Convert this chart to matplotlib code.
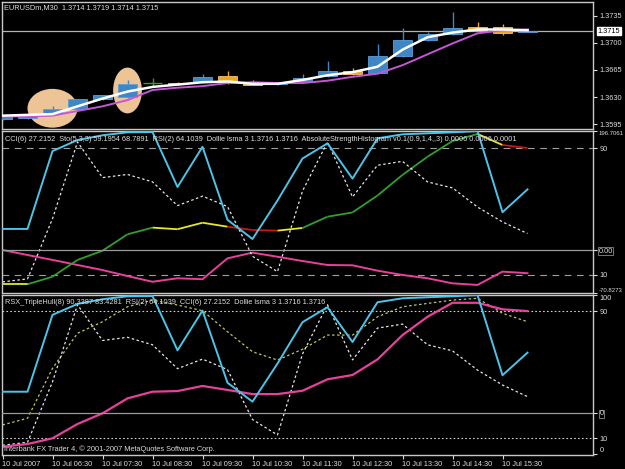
import numpy as np
import matplotlib
matplotlib.use("Agg")
import matplotlib.pyplot as plt
from matplotlib.patches import Rectangle, Ellipse
from matplotlib import font_manager

# EURUSDm M30, 10 Jul 2007, 05:30 .. 16:00
bars = np.arange(22)
xtick_bars = [0, 2, 4, 6, 8, 10, 12, 14, 16, 18, 20]
xtick_labels = ["10 Jul 2007", "10 Jul 06:30", "10 Jul 07:30", "10 Jul 08:30",
                "10 Jul 09:30", "10 Jul 10:30", "10 Jul 11:30", "10 Jul 12:30",
                "10 Jul 13:30", "10 Jul 14:30", "10 Jul 15:30"]

opens = [1.3602, 1.3603, 1.3609, 1.3615, 1.3627, 1.3630, 1.3648, 1.3648, 1.3649, 1.3657, 1.3648,
         1.3647, 1.3651, 1.3657, 1.3664, 1.3661, 1.3683, 1.3703, 1.3711, 1.3720, 1.3720, 1.3714]
highs = [1.3607, 1.3606, 1.3618, 1.3628, 1.3633, 1.3652, 1.3655, 1.3649, 1.3660, 1.3663, 1.3652,
         1.3649, 1.3660, 1.3677, 1.3667, 1.3698, 1.3719, 1.3714, 1.3739, 1.3726, 1.3724, 1.3719]
lows = [1.3601, 1.3602, 1.3607, 1.3614, 1.3626, 1.3629, 1.3644, 1.3646, 1.3648, 1.3647, 1.3645,
        1.3645, 1.3650, 1.3656, 1.3659, 1.3660, 1.3682, 1.3702, 1.3710, 1.3715, 1.3710, 1.3714]
closes = [1.3606, 1.3605, 1.3615, 1.3627, 1.3632, 1.3647, 1.3648, 1.3647, 1.3656, 1.3649, 1.3645,
          1.3648, 1.3655, 1.3663, 1.3660, 1.3683, 1.3703, 1.3711, 1.3719, 1.3716, 1.3713, 1.3715]

lsma = [1.3606, 1.3607, 1.3608, 1.3618, 1.3628, 1.3637, 1.3643, 1.3646, 1.3649, 1.3650, 1.3647,
        1.3647, 1.3652, 1.3658, 1.3662, 1.3669, 1.3691, 1.3707, 1.3713, 1.3717, 1.3717, 1.3716]
slow_ma = [1.3605, 1.3605, 1.3606, 1.3612, 1.3618, 1.3626, 1.3639, 1.3642, 1.3644, 1.3648, 1.3649,
           1.3648, 1.3648, 1.3651, 1.3656, 1.3660, 1.3671, 1.3685, 1.3699, 1.3712, 1.3716, 1.3717]

# highlighted areas on the price chart: (bar, price, width in bars, height in price)
highlights = [(2.0, 1.36155, 2.0, 0.0050), (5.0, 1.36384, 1.15, 0.0059)]

cci6 = [35.0, 35.0, 163.5, 181.8, 189.6, 194.5, 195.0, 104.2, 170.6, 50.0, 18.4,
        82.0, 151.3, 176.3, 118.1, 184.6, 191.2, 192.9, 194.5, 196.7, 62.6, 100.3]
rsi2 = [5.6, 7.5, 45.5, 94.0, 71.5, 73.5, 68.8, 53.8, 59.8, 53.2, 21.8,
        12.1, 63.0, 94.0, 59.3, 79.3, 81.8, 68.8, 65.0, 52.9, 43.5, 36.2]
sto_line = [4.1, 4.1, 8.9, 19.5, 25.3, 35.7, 39.9, 38.9, 43.0, 40.5, 38.4,
            38.0, 39.7, 46.8, 49.5, 60.2, 73.2, 84.7, 94.6, 99.1, 92.1, 90.2]
# trend state of each segment of sto_line: u = up, f = flat, d = down
sto_state = ["f", "u", "u", "u", "u", "u", "f", "f", "f", "d", "d",
             "f", "u", "u", "u", "u", "u", "u", "u", "f", "d"]
abs_strength = [25.8, 22.6, 19.5, 16.3, 13.1, 9.3, 5.7, 7.9, 7.3, 20.5, 24.1,
                21.5, 18.8, 16.3, 16.1, 12.7, 10.0, 7.9, 4.7, 3.7, 12.1, 11.1]

rsx_main = [4.7, 6.4, 10.0, 19.0, 25.7, 35.1, 39.3, 39.7, 42.9, 40.4, 37.8,
            37.8, 39.9, 47.1, 49.8, 59.6, 74.9, 86.4, 95.2, 95.2, 91.1, 90.0]
rsx_signal = [18.4, 22.6, 54.0, 76.0, 83.3, 92.7, 96.9, 93.8, 90.2, 77.0, 64.4,
              59.2, 66.0, 74.9, 74.9, 86.4, 92.7, 94.8, 96.9, 98.0, 88.6, 83.3]

installed = {f.name for f in font_manager.fontManager.ttflist}
if "Liberation Sans Narrow" in installed:
    plt.rcParams["font.family"] = ["Liberation Sans Narrow", "DejaVu Sans"]
    FS = 6.3
else:
    plt.rcParams["font.family"] = ["Liberation Sans", "DejaVu Sans"]
    FS = 5.3

W, H = 625, 469
TXT = "#dcdcdc"
GRID = "#a0a0a0"

fig = plt.figure(figsize=(W / 100, H / 100), dpi=100, facecolor="black")


def box(top, bottom, left=2, right=593):
    return [left / W, 1 - bottom / H, (right - left) / W, (bottom - top) / H]


def right_ticks(ax):
    ax.yaxis.tick_right()
    ax.tick_params(axis="y", left=False, labelleft=False, right=True, labelright=True,
                   colors=TXT, labelsize=FS, length=3, width=0.8, pad=1.5)


def style(ax):
    ax.set_facecolor("black")
    for s in ax.spines.values():
        s.set_color("#c8c8c8")
        s.set_linewidth(1)
    ax.set_xlim(-0.02, 23.62)
    right_ticks(ax)
    ax.tick_params(axis="x", bottom=False, labelbottom=False)


def cci_axis(ax):
    tw = ax.twinx()
    tw.set_ylim(cci_lo, cci_hi)
    tw.set_xlim(-0.02, 23.62)
    for s in tw.spines.values():
        s.set_visible(False)
    right_ticks(tw)
    right_ticks(ax)
    return tw


cci_lo, cci_hi = -70.8273, 196.7061

ax_price = fig.add_axes(box(2, 129))
ax_mid = fig.add_axes(box(131, 293))
ax_low = fig.add_axes(box(295, 455))
for a in (ax_price, ax_mid, ax_low):
    style(a)

# ---- price panel
ax_price.set_ylim(1.35888, 1.37524)
for bx, by, bw, bh in highlights:
    ax_price.add_patch(Ellipse((bx, by), bw, bh, facecolor="#ecc496", edgecolor="none", zorder=1))

body_w = 0.76
for k in bars:
    o, h, l, c = opens[k], highs[k], lows[k], closes[k]
    if c > o:
        col, edge = "#3f86c6", "#5f9fd8"
    elif c < o:
        col, edge = "#f2a41e", "#f8c070"
    else:
        col, edge = "#2e9e2e", "#2e9e2e"
    ax_price.vlines(k, l, h, color=col, lw=1, zorder=2)
    if c == o:
        ax_price.hlines(o, k - body_w / 2, k + body_w / 2, color=col, lw=1, zorder=3)
    else:
        ax_price.add_patch(Rectangle((k - body_w / 2, min(o, c)), body_w, abs(c - o),
                                     facecolor=col, edgecolor=edge, lw=0.6, zorder=3))

ax_price.axhline(closes[-1], color="#b4b4b4", lw=0.9, zorder=1.5)
ax_price.plot(bars, slow_ma, color="#c755d8", lw=1.4, zorder=4)
ax_price.plot(bars, lsma, color="white", lw=1.8, zorder=5)

price_ticks = [1.3735, 1.3700, 1.3665, 1.3630, 1.3595]
ax_price.set_yticks(price_ticks)
ax_price.set_yticklabels([f"{p:.4f}" for p in price_ticks])
ax_price.text(1.008, closes[-1], f"{closes[-1]:.4f}", transform=ax_price.get_yaxis_transform(),
              fontsize=FS, color="black", va="center", ha="left",
              bbox=dict(facecolor="white", edgecolor="white", pad=0.6), clip_on=False)
fig.text(4 / W, 1 - 7.5 / H, "EURUSDm,M30  1.3714 1.3719 1.3714 1.3715",
         color=TXT, fontsize=FS, va="center", ha="left")

# ---- middle panel (0..100 scale + CCI scale)
ax_mid.set_ylim(-1.4, 100.95)
ax_mid.axhline(90, color=GRID, lw=0.8, ls=(0, (6, 5)))
ax_mid.axhline(10, color=GRID, lw=0.8, ls=(0, (6, 5)))
ax_mid.plot(bars, abs_strength, color="#e8409c", lw=1.4)
state_col = {"u": "#2ea02e", "f": "#e6e62e", "d": "#cc1414"}
for k, st in enumerate(sto_state):
    ax_mid.plot(bars[k:k + 2], sto_line[k:k + 2], color=state_col[st], lw=1.3,
                solid_capstyle="butt")
ax_mid.plot(bars, rsi2, color="#e6e6e6", lw=0.9, ls=(0, (2, 2)))

ax_mid_c = cci_axis(ax_mid)
ax_mid.set_yticks([90, 10])
ax_mid.set_yticklabels(["90", "10"])
ax_mid_c.axhline(0, color="#9a9a9a", lw=0.9)
ax_mid_c.plot(bars, cci6, color="#4cc4e8", lw=1.4)
ax_mid_c.set_yticks([cci_hi, 0, cci_lo])
ax_mid_c.set_yticklabels(["196.7061", "0.00", "-70.8273"])
ax_mid_c.tick_params(axis="y", pad=1)
lbls = ax_mid_c.get_yticklabels()
lbls[0].set_va("top")
lbls[2].set_va("bottom")
lbls[0].set_fontsize(FS - 1.0)
lbls[2].set_fontsize(FS - 1.0)
lbls[1].set_bbox(dict(facecolor="black", edgecolor="#8a8a8a", pad=0.3, lw=0.6))

fig.text(5 / W, 1 - 139 / H,
         "CCI(6) 27.2152  Sto(5,3,3) 59.1954 68.7891  RSI(2) 64.1039  Dollie lsma 3 1.3716 1.3716  "
         "AbsoluteStrengthHistogram v0.1(0.9,1,4,,3) 0.0006 0.0006 0.0001",
         color=TXT, fontsize=FS, va="center", ha="left")

# ---- bottom panel
ax_low.set_ylim(-0.5, 100.1)
ax_low.axhline(90, color="#d0d0d0", lw=0.8, ls=(0, (1.5, 2)))
ax_low.axhline(10, color="#d0d0d0", lw=0.8, ls=(0, (1.5, 2)))
ax_low.plot(bars, rsx_signal, color="#b4cc5a", lw=0.9, ls=(0, (2, 2)))
ax_low.plot(bars, rsi2, color="#e6e6e6", lw=0.9, ls=(0, (2, 2)))
ax_low.plot(bars, rsx_main, color="#e8409c", lw=1.6)

ax_low_c = cci_axis(ax_low)
ax_low.set_yticks([100, 90, 10, 0])
ax_low.set_yticklabels(["100", "90", "10", "0"])
ll = ax_low.get_yticklabels()
ll[0].set_va("top")
ll[3].set_va("bottom")
ax_low_c.axhline(0, color="#9a9a9a", lw=0.9)
ax_low_c.plot(bars, cci6, color="#4cc4e8", lw=1.4)
ax_low_c.set_yticks([0])
ax_low_c.set_yticklabels(["0"])
ax_low_c.get_yticklabels()[0].set_bbox(dict(facecolor="black", edgecolor="#8a8a8a", pad=0.3, lw=0.6))

ax_low.set_xticks(xtick_bars)
ax_low.set_xticklabels(xtick_labels, ha="left")
ax_low.tick_params(axis="x", bottom=True, labelbottom=True, colors=TXT, labelsize=FS,
                   length=3, width=0.8, pad=1)

fig.text(5 / W, 1 - 302 / H,
         "RSX_TripleHull(8) 90.3387 83.4281  RSI(2) 64.1039  CCI(6) 27.2152  Dollie lsma 3 1.3716 1.3716",
         color=TXT, fontsize=FS, va="center", ha="left")
fig.text(4 / W, 1 - 449.5 / H,
         "Interbank FX Trader 4, \u00a9 2001-2007 MetaQuotes Software Corp.",
         color=TXT, fontsize=FS, va="center", ha="left")

fig.savefig("out.png", dpi=100, facecolor="black")
